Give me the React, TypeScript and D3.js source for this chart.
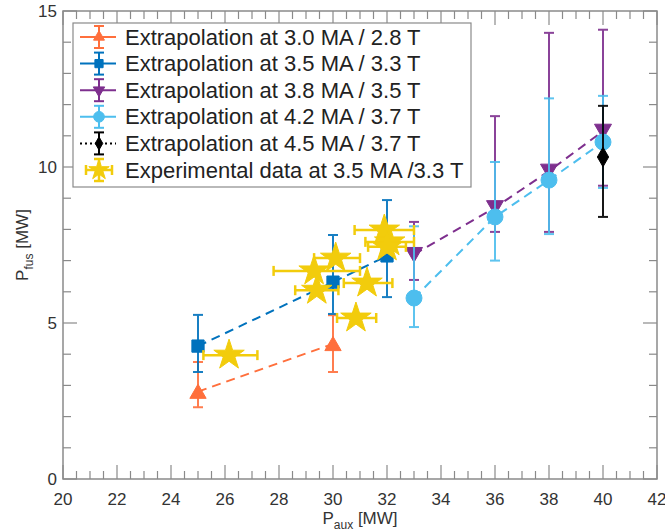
import React from "react";
import * as d3 from "d3";

// ---- data ----
const xTicks = [20, 22, 24, 26, 28, 30, 32, 34, 36, 38, 40, 42];
const yTicks = [0, 5, 10, 15];

const s30x = [25, 30];
const s30y = [2.8, 4.33];
const s30lo = [2.3, 3.43];
const s30hi = [3.75, 5.25];

const s35x = [25, 30, 32];
const s35y = [4.26, 6.31, 7.15];
const s35lo = [3.43, 5.29, 5.83];
const s35hi = [5.26, 7.82, 8.94];

const s38x = [33, 36, 38, 40];
const s38y = [7.2, 8.7, 9.87, 11.15];
const s38lo = [6.38, 7.92, 7.92, 9.4];
const s38hi = [8.24, 11.63, 14.3, 14.4];

const s42x = [33, 36, 38, 40];
const s42y = [5.8, 8.4, 9.58, 10.8];
const s42lo = [4.87, 7.0, 7.85, 9.33];
const s42hi = [8.1, 10.16, 12.2, 12.28];

const s45x = [40];
const s45y = [10.32];
const s45lo = [8.4];
const s45hi = [11.96];

const expX = [26.15, 29.4, 29.3, 30.1, 30.85, 31.26, 31.9, 32.1, 32.0];
const expY = [3.97, 6.05, 6.67, 7.08, 5.16, 6.28, 7.98, 7.6, 7.44];
const expXlo = [25.2, 28.6, 27.8, 29.3, 30.15, 30.4, 30.8, 31.2, 31.3];
const expXhi = [27.2, 30.2, 31.0, 31.0, 31.6, 32.2, 33.0, 33.0, 32.7];
const expYerr = [0.15, 0.2, 0.2, 0.2, 0.15, 0.15, 0.25, 0.2, 0.2];

const legendLabels = [
  "Extrapolation at 3.0 MA / 2.8 T",
  "Extrapolation at 3.5 MA / 3.3 T",
  "Extrapolation at 3.8 MA / 3.5 T",
  "Extrapolation at 4.2 MA / 3.7 T",
  "Extrapolation at 4.5 MA / 3.7 T",
  "Experimental data at 3.5 MA /3.3 T",
];

const ORANGE = "#FF6F3C";
const BLUE = "#0072BD";
const PURPLE = "#7E2F8E";
const LBLUE = "#4DBEEE";
const BLACK = "#000000";
const YELLOW = "#F2CC0C";

const W = 665;
const H = 532;
const L = 63, R = 657, T = 11, B = 479;
const FONT = "'Liberation Sans', Arial, Helvetica, sans-serif";

const x = d3.scaleLinear().domain([20, 42]).range([L, R]);
const y = d3.scaleLinear().domain([0, 15]).range([B, T]);

type Marker = "tri" | "sq" | "tridown" | "circ" | "diam" | "star";

function markerPath(m: Marker, scale = 1): string {
  const ka = 0.8908130915292852;
  switch (m) {
    case "tri": return d3.symbol(d3.symbolTriangle, 115 * scale)()!;
    case "tridown": return d3.symbol(d3.symbolTriangle, 125 * scale)()!;
    case "sq": return d3.symbol(d3.symbolSquare, 150 * scale)()!;
    case "circ": return d3.symbol(d3.symbolCircle, 200 * scale)()!;
    case "diam": return d3.symbol(d3.symbolDiamond, 110 * scale)()!;
    case "star": return d3.symbol(d3.symbolStar, (16 * 16 / ka) * scale)()!;
  }
}

interface Series {
  xs: number[]; ys: number[]; lo: number[]; hi: number[];
  color: string; marker: Marker; dash: string;
}

const series: Series[] = [
  { xs: s30x, ys: s30y, lo: s30lo, hi: s30hi, color: ORANGE, marker: "tri", dash: "9,6" },
  { xs: s35x, ys: s35y, lo: s35lo, hi: s35hi, color: BLUE, marker: "sq", dash: "9,6" },
  { xs: s38x, ys: s38y, lo: s38lo, hi: s38hi, color: PURPLE, marker: "tridown", dash: "9,6" },
  { xs: s42x, ys: s42y, lo: s42lo, hi: s42hi, color: LBLUE, marker: "circ", dash: "9,6" },
  { xs: s45x, ys: s45y, lo: s45lo, hi: s45hi, color: BLACK, marker: "diam", dash: "2,3" },
];

function SeriesG({ s }: { s: Series }) {
  const line = d3.line<number>().x((_, i) => x(s.xs[i])).y((d) => y(d));
  const cap = 5;
  return (
    <g>
      <path d={line(s.ys)!} fill="none" stroke={s.color} strokeWidth={2} strokeDasharray={s.dash} />
      {s.xs.map((xv, i) => (
        <g key={i} stroke={s.color} strokeWidth={2} opacity={0.9}>
          <line x1={x(xv)} x2={x(xv)} y1={y(s.lo[i])} y2={y(s.hi[i])} />
          <line x1={x(xv) - cap} x2={x(xv) + cap} y1={y(s.lo[i])} y2={y(s.lo[i])} />
          <line x1={x(xv) - cap} x2={x(xv) + cap} y1={y(s.hi[i])} y2={y(s.hi[i])} />
        </g>
      ))}
      {s.xs.map((xv, i) => (
        <path key={"m" + i} d={markerPath(s.marker)}
          transform={`translate(${x(xv)},${y(s.ys[i]) + (s.marker === "tri" ? 2 : s.marker === "tridown" ? -2 : 0)})${s.marker === "tridown" ? " rotate(180)" : ""}`}
          fill={s.color} stroke={s.color} strokeWidth={1} />
      ))}
    </g>
  );
}

function ExpG() {
  const cap = 5;
  return (
    <g>
      {expX.map((xv, i) => (
        <g key={i} stroke={YELLOW} strokeWidth={2.5}>
          <line x1={x(expXlo[i])} x2={x(expXhi[i])} y1={y(expY[i])} y2={y(expY[i])} />
          <line x1={x(expXlo[i])} x2={x(expXlo[i])} y1={y(expY[i]) - cap} y2={y(expY[i]) + cap} />
          <line x1={x(expXhi[i])} x2={x(expXhi[i])} y1={y(expY[i]) - cap} y2={y(expY[i]) + cap} />
          <line x1={x(xv)} x2={x(xv)} y1={y(expY[i] - expYerr[i])} y2={y(expY[i] + expYerr[i])} />
        </g>
      ))}
      {expX.map((xv, i) => (
        <path key={"s" + i} d={markerPath("star")} transform={`translate(${x(xv)},${y(expY[i])})`}
          fill={YELLOW} stroke={YELLOW} strokeWidth={1} />
      ))}
    </g>
  );
}

function Axes() {
  const minorX = d3.range(20, 42.001, 0.5);
  const minorY = d3.range(0, 15.001, 1);
  const ax = "#8a8a8a";
  const txt = "#333";
  return (
    <g>
      <rect x={L} y={T} width={R - L} height={B - T} fill="none" stroke={ax} strokeWidth={1.5} />
      {minorX.map((v) => {
        const major = Math.abs(v % 2) < 1e-6;
        const len = major ? 14 : 8;
        return (
          <g key={"x" + v} stroke={ax} strokeWidth={1.2}>
            <line x1={x(v)} x2={x(v)} y1={B} y2={B - len} />
            <line x1={x(v)} x2={x(v)} y1={T} y2={T + len} />
          </g>
        );
      })}
      {minorY.map((v) => {
        const major = Math.abs(v % 5) < 1e-6;
        const len = major ? 14 : 8;
        return (
          <g key={"y" + v} stroke={ax} strokeWidth={1.2}>
            <line x1={L} x2={L + len} y1={y(v)} y2={y(v)} />
            <line x1={R} x2={R - len} y1={y(v)} y2={y(v)} />
          </g>
        );
      })}
      {xTicks.map((v) => (
        <text key={"xt" + v} x={x(v)} y={B + 26} textAnchor="middle" fontSize={17} fill={txt} fontFamily={FONT}>{v}</text>
      ))}
      {yTicks.map((v) => (
        <text key={"yt" + v} x={L - 6} y={y(v) + 6} textAnchor="end" fontSize={17} fill={txt} fontFamily={FONT}>{v}</text>
      ))}
      <text x={(L + R) / 2} y={H - 8} textAnchor="middle" fontSize={17} fill={txt} fontFamily={FONT}>
        P<tspan fontSize={12} dy={5}>aux</tspan><tspan dy={-5}> [MW]</tspan>
      </text>
      <text transform={`translate(28,${(T + B) / 2}) rotate(-90)`} textAnchor="middle" fontSize={17} fill={txt} fontFamily={FONT}>
        P<tspan fontSize={12} dy={5}>fus</tspan><tspan dy={-5}> [MW]</tspan>
      </text>
    </g>
  );
}

function Legend() {
  const lx = 73, ly = 23, lw = 398, lh = 164;
  const rowY = (i: number) => 37 + i * 26.6;
  const cx = 99;
  const colors = [ORANGE, BLUE, PURPLE, LBLUE, BLACK, YELLOW];
  const markers: Marker[] = ["tri", "sq", "tridown", "circ", "diam", "star"];
  return (
    <g>
      <rect x={lx} y={ly} width={lw} height={lh} fill="#fff" stroke="#8a8a8a" strokeWidth={1.2} />
      {legendLabels.map((lab, i) => {
        const cy = rowY(i);
        const c = colors[i];
        const m = markers[i];
        return (
          <g key={i}>
            {i < 5 && (
              <line x1={80} x2={116} y1={cy} y2={cy} stroke={c} strokeWidth={2}
                strokeDasharray={i === 4 ? "2,3" : undefined} />
            )}
            {i < 5 && (
              <g stroke={c} strokeWidth={2}>
                <line x1={cx} x2={cx} y1={cy - 11} y2={cy + 11} />
                <line x1={cx - 5} x2={cx + 5} y1={cy - 11} y2={cy - 11} />
                <line x1={cx - 5} x2={cx + 5} y1={cy + 11} y2={cy + 11} />
              </g>
            )}
            {i === 5 && (
              <g stroke={c} strokeWidth={2.5}>
                <line x1={86} x2={112} y1={cy} y2={cy} />
                <line x1={86} x2={86} y1={cy - 5} y2={cy + 5} />
                <line x1={112} x2={112} y1={cy - 5} y2={cy + 5} />
                <line x1={cx} x2={cx} y1={cy - 11} y2={cy + 11} />
                <line x1={cx - 5} x2={cx + 5} y1={cy - 11} y2={cy - 11} />
                <line x1={cx - 5} x2={cx + 5} y1={cy + 11} y2={cy + 11} />
              </g>
            )}
            <path d={markerPath(m, 0.45)}
              transform={`translate(${cx},${cy})${m === "tridown" ? " rotate(180)" : ""}`}
              fill={c} stroke={c} strokeWidth={1} />
            <text x={125} y={cy + 7.5} fontSize={22} fill="#222" fontFamily={FONT}>{lab}</text>
          </g>
        );
      })}
    </g>
  );
}

export default function App() {
  return (
    <svg width={W} height={H} viewBox={`0 0 ${W} ${H}`}
      style={{ position: "absolute", left: 0, top: 0, background: "#fff", display: "block" }}>
      <rect x={0} y={0} width={W} height={H} fill="#fff" />
      <Axes />
      {series.map((s, i) => <SeriesG key={i} s={s} />)}
      <ExpG />
      <Legend />
    </svg>
  );
}
